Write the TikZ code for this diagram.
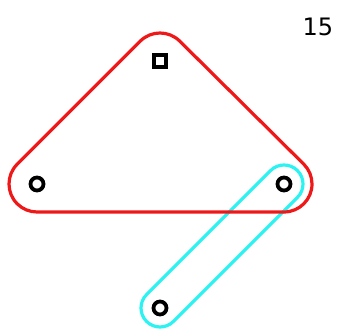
\documentclass[tikz,border=0pt]{standalone}
\usepackage{fontspec}
\setmainfont{DejaVu Sans}
\usetikzlibrary{calc}
\definecolor{hullred}{RGB}{238,24,24}
\definecolor{hullcyan}{RGB}{45,242,242}
\begin{document}
\begin{tikzpicture}[x=1pt,y=1pt,
  pt/.style={circle,draw=black,line width=3.8pt,minimum size=13pt,inner sep=0pt},
  sq/.style={rectangle,draw=black,line width=3.8pt,minimum size=12pt,inner sep=0pt},
  hull/.style={line width=3.2pt,line join=round}]
\useasboundingbox (0,0) rectangle (338,334);
% y' = 334 - y
\coordinate (A) at (160,273);
\coordinate (B) at (37,150);
\coordinate (C) at (284,150);
\coordinate (D) at (160,26);
% cyan stadium
\draw[hull,draw=hullcyan] ($(C)+(135:19)$) -- ($(D)+(135:19)$)
  arc[start angle=135,end angle=315,radius=19]
  -- ($(C)+(315:19)$)
  arc[start angle=315,end angle=495,radius=19] -- cycle;
% red rounded triangle
\draw[hull,draw=hullred] ($(A)+(135:28)$) -- ($(B)+(135:28)$)
  arc[start angle=135,end angle=270,radius=28]
  -- ($(C)+(270:28)$)
  arc[start angle=270,end angle=405,radius=28]
  -- ($(A)+(45:28)$)
  arc[start angle=45,end angle=135,radius=28] -- cycle;
\node[sq] (nA) at (A) {};
\node[pt] (nB) at (B) {};
\node[pt] (nC) at (C) {};
\node[pt] (nD) at (D) {};
\node[font=\fontsize{24}{28}\selectfont,anchor=center] (lbl) at (318,307) {15};
\end{tikzpicture}
\end{document}
